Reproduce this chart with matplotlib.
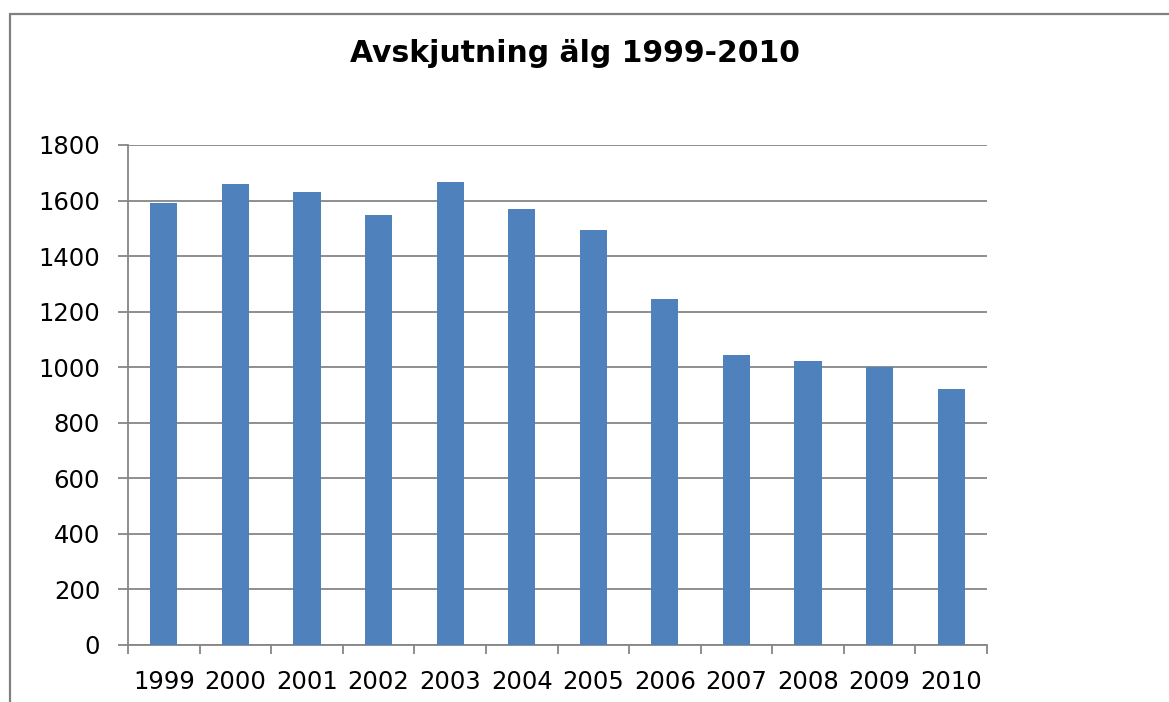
import numpy as np
import matplotlib.pyplot as plt
from matplotlib.patches import Rectangle

years = ['1999', '2000', '2001', '2002', '2003', '2004',
         '2005', '2006', '2007', '2008', '2009', '2010']
shot = [1590, 1660, 1630, 1548, 1666, 1569, 1493, 1244, 1044, 1023, 1000, 922]
yticks = [0, 200, 400, 600, 800, 1000, 1200, 1400, 1600, 1800]

W, H = 1169, 702
fig = plt.figure(figsize=(W / 100, H / 100), dpi=100)
fig.patch.set_facecolor('white')

# outer chart frame (only top and left edges visible)
fig.patches.append(Rectangle((10 / W, -0.1), 1.2, (H - 14) / H + 0.1,
                             transform=fig.transFigure, fill=False,
                             edgecolor='#808080', linewidth=1.6))

ax = fig.add_axes([128 / W, 1 - 645 / H, (987 - 128) / W, (645 - 145) / H])
x = np.arange(len(years))
ax.bar(x, shot, width=0.38, color='#4F81BD', zorder=3)

ax.set_xlim(-0.5, len(years) - 0.5)
ax.set_ylim(0, 1800)
ax.set_yticks(yticks)
ax.set_yticklabels([str(v) for v in yticks], fontsize=17.5)
ax.set_xticks(x)
ax.set_xticklabels(years, fontsize=17.5)
ax.set_xticks(np.arange(len(years) + 1) - 0.5, minor=True)

ax.grid(axis='y', color='#868686', linewidth=1.3, zorder=0)
ax.tick_params(axis='y', length=7, width=1.3, color='#868686', pad=13)
ax.tick_params(axis='x', which='major', length=0, pad=18)
ax.tick_params(axis='x', which='minor', length=6.5, width=1.3, color='#868686')

for s in ['top', 'right']:
    ax.spines[s].set_visible(False)
for s in ['left', 'bottom']:
    ax.spines[s].set_color('#868686')
    ax.spines[s].set_linewidth(1.3)

fig.text(0.492, 1 - 53 / H, 'Avskjutning älg 1999-2010', ha='center', va='center',
         fontsize=21.5, fontweight='bold', family='DejaVu Sans')

fig.savefig('out.png', dpi=100)
